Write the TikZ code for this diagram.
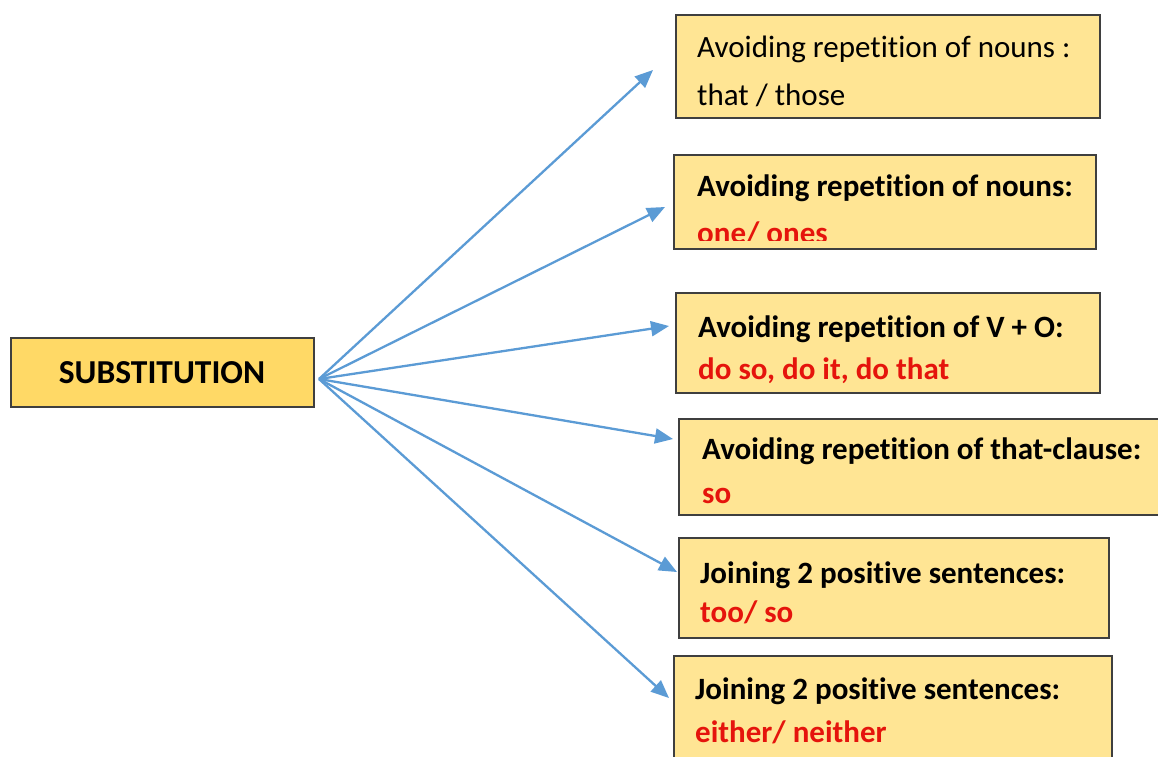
\documentclass[tikz,border=0pt]{standalone}
\usepackage{fontspec}
\setmainfont[Ligatures=NoCommon]{Carlito}
\usetikzlibrary{arrows.meta}
\definecolor{boxfill}{HTML}{FFE594}
\definecolor{mainfill}{HTML}{FFD966}
\definecolor{boxline}{HTML}{3F3F3F}
\definecolor{arrowblue}{HTML}{5B9BD5}
\definecolor{redtext}{HTML}{E5140C}
\begin{document}
\begin{tikzpicture}[x=1pt,y=-1pt,
  gbox/.style={draw=boxline,line width=1.6pt,fill=boxfill,inner sep=0pt,anchor=north west},
  mbox/.style={draw=boxline,line width=1.6pt,fill=mainfill,inner sep=0pt,anchor=north west},
  txt/.style={anchor=base west,inner sep=0pt,font=\fontsize{31}{36}\selectfont},
  btxt/.style={txt,font=\fontsize{31}{36}\selectfont\bfseries},
  rtxt/.style={btxt,text=redtext},
  conn/.style={draw=arrowblue,line width=2.3pt,-{Triangle[length=18pt,width=15pt]}}]
\useasboundingbox[fill=white] (0,0) rectangle (1158,756);
% boxes
\node[mbox,minimum width=303pt,minimum height=69pt] (sub) at (10,337) {};
\node[anchor=center,inner sep=0pt,font=\fontsize{33.5}{38}\selectfont\bfseries] (subt) at (162,373) {SUBSTITUTION};
\node[gbox,minimum width=424pt,minimum height=103pt] (b1) at (675,14) {};
\node[gbox,minimum width=422pt,minimum height=94pt] (b2) at (673,154) {};
\node[gbox,minimum width=424pt,minimum height=100pt] (b3) at (675,292) {};
\node[gbox,minimum width=490pt,minimum height=96pt] (b4) at (678,418) {};
\node[gbox,minimum width=430pt,minimum height=100pt] (b5) at (678,537) {};
\node[gbox,minimum width=438pt,minimum height=110pt] (b6) at (673,655) {};
% texts
\node[txt] (t1a) at (697,57) {Avoiding repetition of nouns :};
\node[txt] (t1b) at (697,105) {that / those};
\node[btxt] (t2a) at (697,196) {Avoiding repetition of nouns:};
\begin{scope}
\clip (673,154) rectangle (1095,240);
\node[rtxt] (t2b) at (697,243.5) {one/ ones};
\end{scope}
\node[btxt] (t3a) at (698,337) {Avoiding repetition of V + O:};
\node[rtxt] (t3b) at (698,379) {do so, do it, do that};
\node[btxt] (t4a) at (702,459) {Avoiding repetition of that-clause:};
\node[rtxt] (t4b) at (702,503) {so};
\node[btxt] (t5a) at (700,583) {Joining 2 positive sentences:};
\node[rtxt] (t5b) at (700,622) {too/ so};
\node[btxt] (t6a) at (695,699) {Joining 2 positive sentences:};
\node[rtxt] (t6b) at (695,742) {either/ neither};
% connectors
\coordinate (hub) at (319,379);
\coordinate (e1) at (653,70);
\coordinate (e2) at (665,207);
\coordinate (e3) at (669,326);
\coordinate (e4) at (673,439);
\coordinate (e5) at (677,572);
\coordinate (e6) at (669,698);
\foreach \e in {e1,e2,e3,e4,e5,e6} \draw[conn] (hub) -- (\e);
\end{tikzpicture}
\end{document}
